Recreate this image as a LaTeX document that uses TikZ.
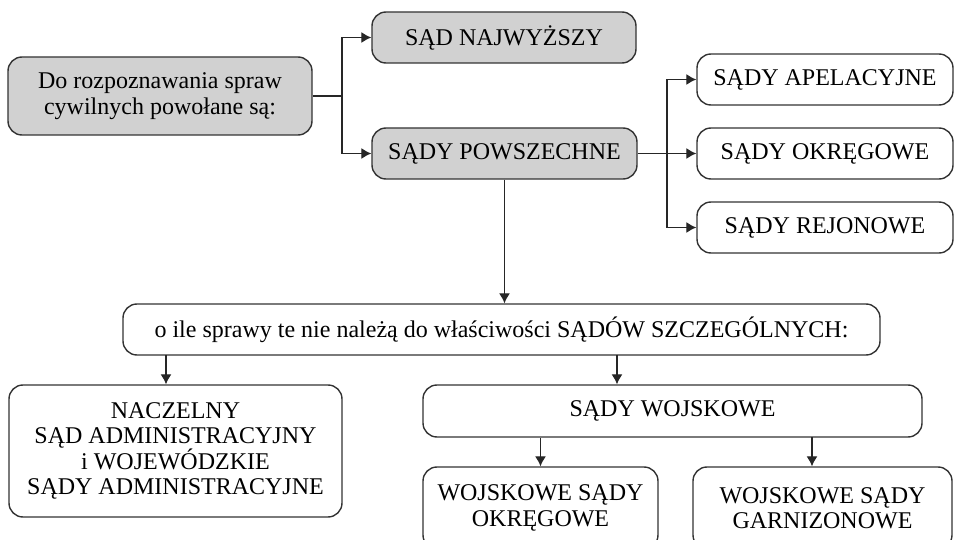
\documentclass[tikz,border=0pt]{standalone}
\usepackage{fontspec}
\setmainfont{Liberation Serif}
\usetikzlibrary{arrows.meta}

\begin{document}
\begin{tikzpicture}[x=0.5pt, y=-0.5pt,
    box/.style={draw=black!80, line width=0.7pt, rounded corners=7pt, align=center,
      inner sep=0pt, font=\fontsize{12}{12.75}\selectfont},
    greybox/.style={box, fill=black!18},
    arr/.style={draw=black!85, line width=0.6pt, -{Latex[length=5pt, width=5.5pt]}},
    line/.style={draw=black!85, line width=0.6pt}]
      \useasboundingbox (0,0) rectangle (955,540);
      \clip (0,0) rectangle (955,540);

      \node[greybox, minimum width=152pt, minimum height=39pt] (civil) at (160, 96) {Do rozpoznawania spraw\\cywilnych powołane są:};
      \node[greybox, minimum width=132pt, minimum height=25.5pt] (najw) at (504, 37.5) {SĄD NAJWYŻSZY};
      \node[greybox, minimum width=132.5pt, minimum height=25.5pt] (powsz) at (504.5, 153.5) {SĄDY POWSZECHNE};
      \node[box, minimum width=128pt, minimum height=25.5pt] (apel) at (825, 79.5) {SĄDY APELACYJNE};
      \node[box, minimum width=128pt, minimum height=25.5pt] (okreg) at (825, 153.5) {SĄDY OKRĘGOWE};
      \node[box, minimum width=128pt, minimum height=25.5pt] (rejon) at (825, 227.5) {SĄDY REJONOWE};
      \node[box, minimum width=378.5pt, minimum height=25.5pt] (szczeg) at (501.5, 329.5) {o ile sprawy te nie należą do właściwości SĄDÓW SZCZEGÓLNYCH:};
      \node[box, minimum width=166.5pt, minimum height=66pt] (admin) at (175.5, 451) {NACZELNY\\SĄD ADMINISTRACYJNY\\i WOJEWÓDZKIE\\SĄDY ADMINISTRACYJNE};
      \node[box, minimum width=249.5pt, minimum height=26pt] (wojsk) at (672.5, 411) {SĄDY WOJSKOWE};
      \node[box, minimum width=117.5pt, minimum height=41pt] (wokreg) at (540.5, 508) {WOJSKOWE SĄDY\\OKRĘGOWE};
      \node[box, minimum width=129.5pt, minimum height=41pt] (wgarn) at (822.5, 508) {WOJSKOWE SĄDY\\GARNIZONOWE};

      \coordinate (j1) at (342, 96);
      \coordinate (j2) at (667, 153.5);
      \coordinate (s1) at (166, 355);
      \coordinate (s2) at (617, 355);
      \coordinate (w2) at (812, 437);

      \draw[line] (civil) -- (j1);
      \draw[arr] (j1) |- (najw);
      \draw[arr] (j1) |- (powsz);
      \draw[line] (powsz) -- (j2);
      \draw[arr] (j2) |- (apel);
      \draw[arr] (j2) -- (okreg);
      \draw[arr] (j2) |- (rejon);
      \draw[arr] (powsz) -- (powsz |- szczeg.north);
      \draw[arr] (s1) -- (s1 |- admin.north);
      \draw[arr] (s2) -- (s2 |- wojsk.north);
      \draw[arr] (wojsk.south -| wokreg) -- (wokreg);
      \draw[arr] (w2) -- (w2 |- wgarn.north);
    \end{tikzpicture}
\end{document}
